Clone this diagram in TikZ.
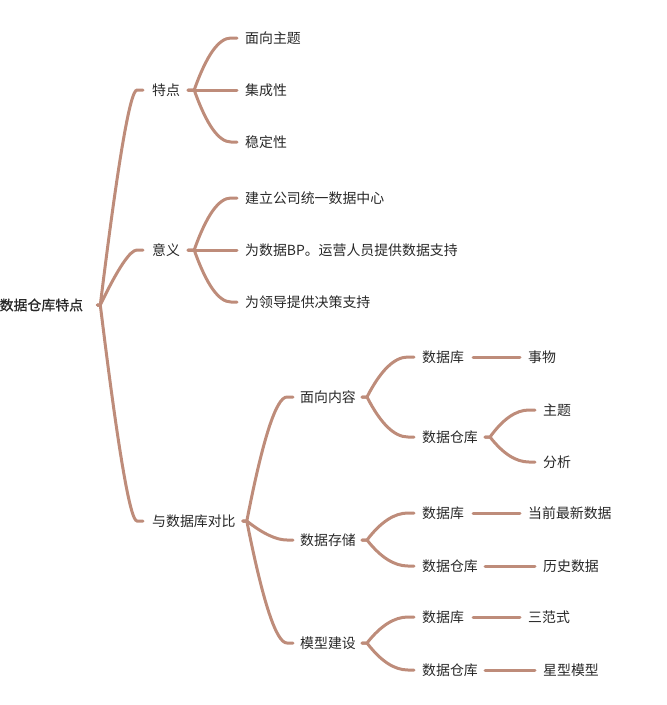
\documentclass[tikz,border=0pt]{standalone}
\usepackage{fontspec}
\setmainfont{Noto Sans CJK SC}
\newfontfamily\rootfont[FakeBold=0.6]{Noto Sans CJK SC}
\usetikzlibrary{calc}
\definecolor{linec}{RGB}{190,140,122}
\definecolor{txt}{RGB}{40,40,40}
\begin{document}
\begin{tikzpicture}[x=1pt,y=-1pt,
  lbl/.style={anchor=west,inner sep=0pt,font=\fontsize{13.9}{16}\selectfont,text=txt},
  rootlbl/.style={lbl,font=\rootfont\fontsize{13.9}{16}\selectfont},
  conn/.style={draw=linec,line width=3pt,line cap=round},
  mm/.style n args={2}{to path={let \p1=(\tikztostart),\p2=(\tikztotarget),
     \n1={\x1+#1pt},\n2={\x2-6pt},\n3={\n2-\n1} in
     -- (\n1,\y1) .. controls ({\n1+0.6667*#2*\n3},{\y1+0.6667*(\y2-\y1)}) and ({\n2-0.6667*(1-#2)*\n3},\y2) .. (\n2,\y2) -- (\tikztotarget)}}]
\useasboundingbox (0,0) rectangle (667,705);
% nodes
\node[rootlbl] (root) at (-0.5,305) {数据仓库特点};
\node[lbl] (t1) at (152,90) {特点};
\node[lbl] (t1a) at (245,38) {面向主题};
\node[lbl] (t1b) at (245,90) {集成性};
\node[lbl] (t1c) at (245,142) {稳定性};
\node[lbl] (t2) at (152,250) {意义};
\node[lbl] (t2a) at (245,198) {建立公司统一数据中心};
\node[lbl] (t2b) at (245,250) {为数据BP。运营人员提供数据支持};
\node[lbl] (t2c) at (245,302) {为领导提供决策支持};
\node[lbl] (t3) at (152,521) {与数据库对比};
\node[lbl] (s1) at (300,397) {面向内容};
\node[lbl] (s1a) at (422,357) {数据库};
\node[lbl] (s1a1) at (528,357) {事物};
\node[lbl] (s1b) at (422,437) {数据仓库};
\node[lbl] (s1b1) at (543,410) {主题};
\node[lbl] (s1b2) at (543,462) {分析};
\node[lbl] (s2) at (300,540) {数据存储};
\node[lbl] (s2a) at (422,513) {数据库};
\node[lbl] (s2a1) at (528,513) {当前最新数据};
\node[lbl] (s2b) at (422,566) {数据仓库};
\node[lbl] (s2b1) at (543,566) {历史数据};
\node[lbl] (s3) at (300,643) {模型建设};
\node[lbl] (s3a) at (422,617) {数据库};
\node[lbl] (s3a1) at (528,617) {三范式};
\node[lbl] (s3b) at (422,670) {数据仓库};
\node[lbl] (s3b1) at (543,670) {星型模型};
% connectors
\foreach \c in {t1,t2,t3}
  \draw[conn] ([xshift=14pt]root.east) to[mm={3}{0.72}] ([xshift=-9pt]\c.west);
\foreach \c in {t1a,t1b,t1c}
  \draw[conn] ([xshift=8pt]t1.east) to[mm={6}{0.5}] ([xshift=-8pt]\c.west);
\foreach \c in {t2a,t2b,t2c}
  \draw[conn] ([xshift=8pt]t2.east) to[mm={6}{0.5}] ([xshift=-8pt]\c.west);
\foreach \c in {s1,s2,s3}
  \draw[conn] ([xshift=7pt]t3.east) to[mm={4}{0.6}] ([xshift=-7pt]\c.west);
\foreach \c in {s1a,s1b}
  \draw[conn] ([xshift=6pt]s1.east) to[mm={5}{0.5}] ([xshift=-8pt]\c.west);
\foreach \c in {s2a,s2b}
  \draw[conn] ([xshift=6pt]s2.east) to[mm={5}{0.5}] ([xshift=-8pt]\c.west);
\foreach \c in {s3a,s3b}
  \draw[conn] ([xshift=6pt]s3.east) to[mm={5}{0.5}] ([xshift=-8pt]\c.west);
\foreach \c in {s1b1,s1b2}
  \draw[conn] ([xshift=7pt]s1b.east) to[mm={5}{0.5}] ([xshift=-8pt]\c.west);
\draw[conn] ([xshift=9pt]s1a.east) -- ([xshift=-8pt]s1a1.west);
\draw[conn] ([xshift=9pt]s2a.east) -- ([xshift=-8pt]s2a1.west);
\draw[conn] ([xshift=7pt]s2b.east) -- ([xshift=-8pt]s2b1.west);
\draw[conn] ([xshift=9pt]s3a.east) -- ([xshift=-8pt]s3a1.west);
\draw[conn] ([xshift=7pt]s3b.east) -- ([xshift=-8pt]s3b1.west);
\end{tikzpicture}
\end{document}
